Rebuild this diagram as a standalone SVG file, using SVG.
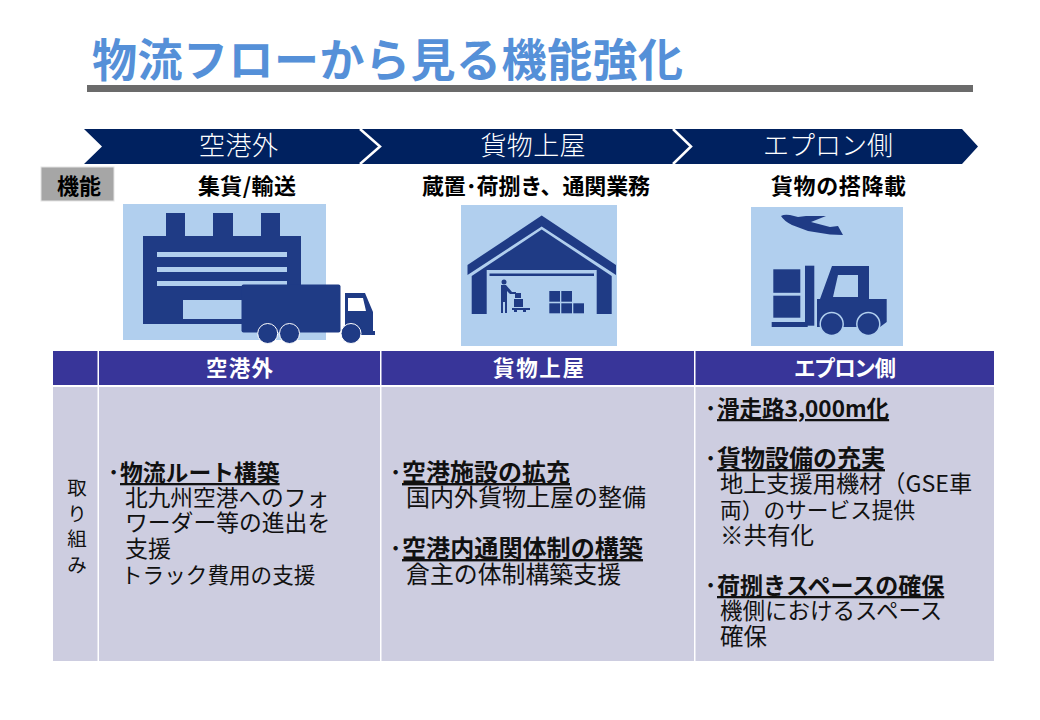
<svg xmlns="http://www.w3.org/2000/svg" width="1040" height="720" viewBox="0 0 1040 720">
<style>
text{font-family:"Noto Sans CJK JP","Noto Sans",sans-serif}
.b{font-size:22.500px;fill:#111}
.h{font-weight:700;text-decoration:underline}
.d{font-weight:700}
.s{font-size:22px;font-weight:700;fill:#000;text-anchor:middle}
.c{font-size:26px;fill:#fff;text-anchor:middle;font-weight:300}
.th{font-size:21.500px;font-weight:700;fill:#fff;text-anchor:middle}
.v{font-size:19.500px;fill:#111;text-anchor:middle}
.ic{fill:#1f3b85}
.bg{fill:#b1cfee}
</style>
<rect width="1040" height="720" fill="#fff"/>
<g id="title">
<text x="92" y="77" font-size="45" font-weight="700" fill="#5590d8" textLength="591">物流フローから見る機能強化</text>
<rect x="87" y="85" width="886" height="7" fill="#6b6b6b"/>
</g>
<g id="flow">
<polygon points="84,129 962,129 978,146.5 962,164 84,164 102,146.5" fill="#00215f"/>
<polyline points="360,129 380,146.5 360,164" fill="none" stroke="#fff" stroke-width="2.5"/>
<polyline points="673,129 691,146.5 673,164" fill="none" stroke="#fff" stroke-width="2.5"/>
<text class="c" x="238.500" y="155" textLength="79">空港外</text>
<text class="c" x="533" y="155" textLength="105">貨物上屋</text>
<text class="c" x="828" y="155" textLength="130">エプロン側</text>
</g>
<g id="func-label">
<rect x="41" y="167" width="73" height="34" fill="#a6a6a6" stroke="#e4e4e4"/>
<text class="s" x="79" y="194">機能</text>
</g>
<g id="col1-func">
<text class="s" x="247" y="194" textLength="98">集貨/輸送</text>
<rect class="bg" x="123" y="204" width="203" height="136"/>
<path class="ic" d="M143 236H166V213H185V236H213V213H233V236H261V213H280V236H301V324H143Z"/>
<g class="bg">
<rect x="157" y="252" width="130" height="5"/>
<rect x="157" y="267" width="130" height="5"/>
<rect x="157" y="281" width="130" height="5"/>
<rect x="183" y="300" width="60" height="19"/>
</g>
<g class="ic">
<rect x="241.500" y="284.500" width="99" height="48" rx="2"/>
<path d="M345 293H365L373 312V331H375V335H345Z"/>
<circle cx="267.700" cy="333.500" r="10" stroke="#fff" stroke-width="1"/>
<circle cx="289.500" cy="333.500" r="10" stroke="#fff" stroke-width="1"/>
<circle cx="351" cy="333.500" r="10" stroke="#fff" stroke-width="1"/>
</g>
<path d="M348 298H363L366 311H348Z" fill="#fff"/>
</g>
<g id="col2-func">
<text class="s" x="536" y="194" textLength="228">蔵置･荷捌き、通関業務</text>
<rect class="bg" x="461" y="205" width="156" height="141"/>
<path class="ic" d="M541.700 215.500L616 265V275L541.700 226.500L467.500 275V265Z"/>
<path class="ic" d="M541.700 229.500L611.700 276V314H596.700V270H486.700V314H471.700V276Z"/>
<rect class="ic" x="489.500" y="273.500" width="104.500" height="2.500"/>
<g class="ic">
<circle cx="504" cy="282" r="2.500"/>
<path d="M501 285H506L512 292H516V294H510L507 291V313H505V302H503V313H501Z"/>
<rect x="515" y="293" width="6" height="5"/>
<rect x="514" y="299" width="9" height="8"/>
<path d="M512 308H530V310H526V312H523V310H517V312H514V310H512Z"/>
<rect x="549.300" y="291" width="10.700" height="10.700"/>
<rect x="561.300" y="291" width="10.700" height="10.700"/>
<rect x="549.300" y="303.300" width="10.700" height="10"/>
<rect x="561.300" y="303.300" width="10.700" height="10"/>
<rect x="573.300" y="303.300" width="10.700" height="10"/>
</g>
</g>
<g id="col3-func">
<text class="s" x="838.500" y="194" textLength="135">貨物の搭降載</text>
<rect class="bg" x="751" y="207" width="152" height="139"/>
<g class="ic">
<path d="M781 216Q784 214 790 215L798 217L806 216H826L811 222L830 227L838 226L843 235L830 234.500L808 231L792 225Q784 221 781 216Z"/>
<rect x="805" y="265.700" width="9.300" height="60"/>
<rect x="771.700" y="322" width="36" height="5"/>
<rect x="773.300" y="269.300" width="27" height="23.500"/>
<rect x="773.300" y="295.700" width="27" height="22"/>
<path d="M817 299H820L832 266H869V299H886.700V322L880 327H817Z"/>
<circle cx="831.700" cy="324" r="11.500" stroke="#b1cfee" stroke-width="1.500"/>
<circle cx="868.300" cy="324" r="11.500" stroke="#b1cfee" stroke-width="1.500"/>
</g>
<path class="bg" d="M838 275H858V297H833Z"/>
</g>
<g id="table">
<rect x="53" y="351" width="941" height="34" fill="#383599"/>
<rect x="53" y="387" width="941" height="274" fill="#cdcde0"/>
<g fill="#fff">
<rect x="97.500" y="351" width="1.500" height="310"/>
<rect x="380" y="351" width="1.500" height="310"/>
<rect x="694" y="351" width="1.500" height="310"/>
</g>
<text class="th" x="239.500" y="375.500" textLength="67">空港外</text>
<text class="th" x="538.500" y="375.500" textLength="91">貨物上屋</text>
<text class="th" x="845" y="375.500" textLength="102">エプロン側</text>
<text class="v" x="77" y="495">取<tspan x="77" y="521">り</tspan><tspan x="77" y="546">組</tspan><tspan x="77" y="572">み</tspan></text>
</g>
<g id="row-col1">
<text class="b" x="108" y="481"><tspan class="d">･</tspan><tspan class="h" x="120" y="481" font-size="22.800">物流ルート構築</tspan><tspan x="125" y="505.500" font-size="22.700">北九州空港へのフォ</tspan><tspan x="125" y="531" font-size="22.800">ワーダー等の進出を</tspan><tspan x="125" y="557" font-size="23">支援</tspan><tspan x="121" y="583" font-size="21.600">トラック費用の支援</tspan></text>
</g>
<g id="row-col2">
<text class="b" x="390" y="481"><tspan class="d">･</tspan><tspan class="h" x="402" y="481" font-size="24">空港施設の拡充</tspan><tspan x="406" y="506" font-size="24">国内外貨物上屋の整備</tspan><tspan class="d" x="390" y="557">･</tspan><tspan class="h" x="402" y="557" font-size="24.100">空港内通関体制の構築</tspan><tspan x="406" y="583" font-size="23.900">倉主の体制構築支援</tspan></text>
</g>
<g id="row-col3">
<text class="b" x="705" y="417"><tspan class="d">･</tspan><tspan class="h" x="717" y="417">滑走路3,000m化</tspan><tspan class="d" x="705" y="467">･</tspan><tspan class="h" x="717" y="467" font-size="24">貨物設備の充実</tspan><tspan x="720" y="492" font-size="23.200">地上支援用機材（GSE車</tspan><tspan x="720" y="518" font-size="21.700">両）のサービス提供</tspan><tspan x="720" y="544" font-size="23.500">※共有化</tspan><tspan class="d" x="705" y="594">･</tspan><tspan class="h" x="717" y="594" font-size="23">荷捌きスペースの確保</tspan><tspan x="720" y="619" font-size="22.500">機側におけるスペース</tspan><tspan x="720" y="645" font-size="23.500">確保</tspan></text>
</g>
</svg>
